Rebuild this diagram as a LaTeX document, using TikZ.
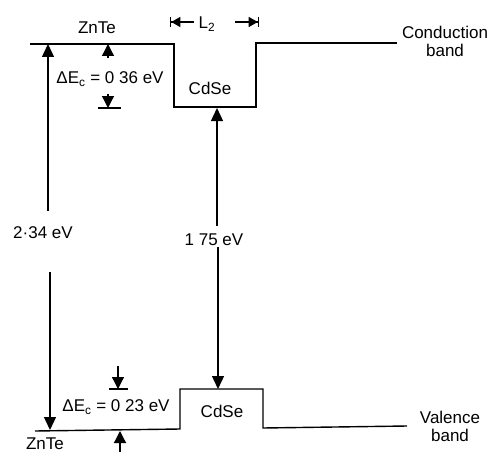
\documentclass[tikz,border=0pt]{standalone}
\usepackage{fontspec}
\setmainfont{Liberation Sans}
\usetikzlibrary{arrows.meta, positioning, calc}

\begin{document}
\begin{tikzpicture}[
    x=1pt, y=-1pt,
    band/.style={draw, line width=1.4pt},
    gap/.style={draw, line width=1.3pt, -{Triangle[width=12pt, length=13pt]}},
    offset/.style={draw, line width=1.3pt, -{Triangle[width=12pt, length=12pt]}},
    bar/.style={draw, line width=1.4pt},
    wellleft/.style={draw, line width=1.3pt, {Bar[width=10pt]Triangle[width=10pt, length=9pt]}-},
    wellright/.style={draw, line width=1.3pt, -{Triangle[width=10pt, length=9pt]Bar[width=10pt]}},
    lab/.style={font=\fontsize{17}{18}\selectfont, inner sep=1pt, align=center}
  ]
  \useasboundingbox (0,0) rectangle (495,452);
  % conduction band
  \coordinate (c0) at (30,44);
  \coordinate (c1) at (174,44);
  \coordinate (c2) at (174,107);
  \coordinate (c3) at (256,107);
  \coordinate (c4) at (256,43);
  \coordinate (c5) at (397,43);
  \draw[band] (c0) -- (c1) -- (c2) -- (c3) -- (c4) -- (c5);
  % valence band
  \coordinate (v0) at (35,431);
  \coordinate (v1) at (180,429);
  \coordinate (v2) at (180,389);
  \coordinate (v3) at (263,389);
  \coordinate (v4) at (263,428);
  \coordinate (v5) at (407,426);
  \draw[band] (v0) -- (v1) -- (v2) -- (v3) -- (v4) -- (v5);

  \node[lab] (zntetop) at (97,28) {ZnTe};
  \node[lab] (cdsetop) at (210,88) {CdSe};
  \node[lab] (cdsebot) at (222,411) {CdSe};
  \node[lab] (zntebot) at (45,444) {ZnTe};
  \node[lab] (cband) at (445,41) {Conduction\\band};
  \node[lab] (vband) at (450,426) {Valence\\band};

  % well width
  \node[lab] (lw) at (207,24) {L\textsubscript{2}};
  \coordinate (lwl) at (170,22);
  \coordinate (lwr) at (259,22);
  \draw[wellleft] (lwl) -- ($(lwl)+(24,0)$);
  \draw[wellright] ($(lwr)-(24,0)$) -- (lwr);

  % band gaps
  \node[lab] (egzn) at (43,233) {2·34 eV};
  \coordinate (gzt) at (48,44);
  \coordinate (gzb) at (50,430);
  \draw[gap] (egzn.north -| gzt) ++(0,-15) -- (gzt);
  \draw[gap] (egzn.south -| gzb) ++(0,32) -- (gzb);

  \node[lab] (egcd) at (214,240) {1 75 eV};
  \coordinate (gct) at (217,108);
  \coordinate (gcb) at (218,389);
  \draw[gap] (egcd.north -| gct) ++(0,-7) -- (gct);
  \draw[gap] (egcd.south -| gcb) ++(0,0) -- (gcb);

  % band offsets
  \node[lab] (dec) at (110,79) {ΔE\textsubscript{c} = 0 36 eV};
  \coordinate (dct) at (108,44);
  \coordinate (dcb) at (108,108);
  \draw[offset] ($(dct)+(0,14)$) -- (dct);
  \draw[offset] ($(dcb)-(0,14)$) -- (dcb);
  \draw[bar] ($(dcb)-(10,0)$) -- ($(dcb)+(13,0)$);

  \node[lab] (dev) at (116,407) {ΔE\textsubscript{c} = 0 23 eV};
  \coordinate (dvt) at (118,389);
  \coordinate (dvb) at (120,431);
  \draw[offset] ($(dvt)-(0,23)$) -- (dvt);
  \draw[bar] ($(dvt)-(9,0)$) -- ($(dvt)+(10,0)$);
  \draw[offset] ($(dvb)+(0,25)$) -- (dvb);
\end{tikzpicture}
\end{document}
